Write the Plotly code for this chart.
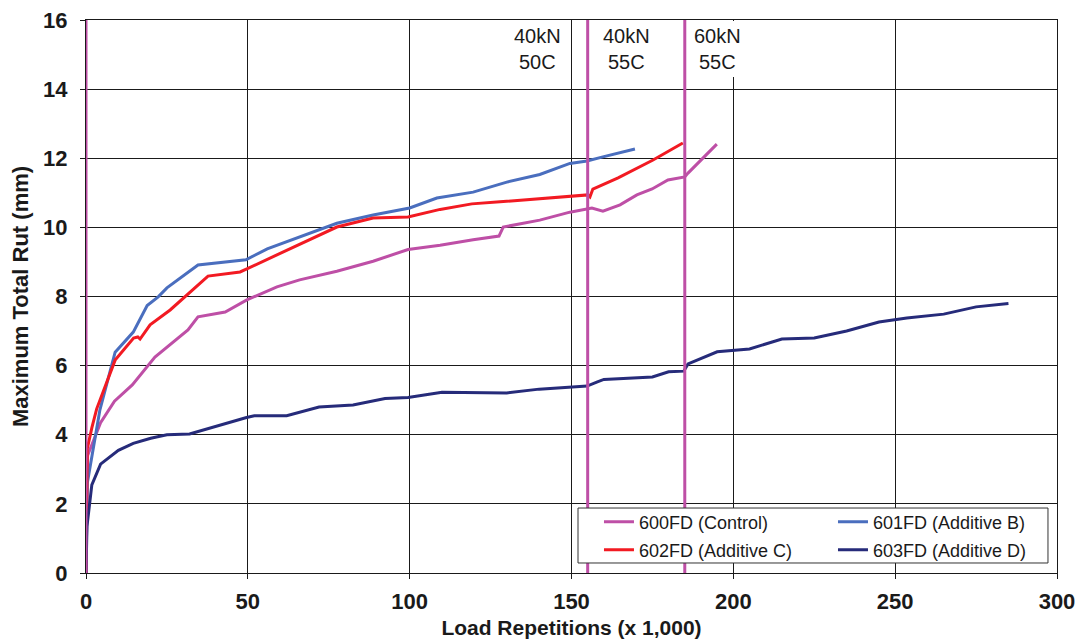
import plotly.graph_objects as go

# Rut depth (mm) versus load repetitions (thousands) for the four test sections
x_600 = [0, 0.5, 4.5, 8.8, 14.3, 21.3, 31.5, 34.6, 43, 49.7, 59, 66, 77.5, 88.7, 99.5,
         109.4, 119.6, 127.6, 128.9, 140.2, 149.5, 154.8, 156.3, 159.7, 165, 170.2,
         174.9, 179.8, 185, 186, 194.9]
y_600 = [0, 3.4, 4.35, 4.97, 5.44, 6.25, 7.03, 7.41, 7.55, 7.9, 8.28, 8.48, 8.73, 9.02,
         9.36, 9.48, 9.64, 9.75, 10.01, 10.21, 10.44, 10.53, 10.56, 10.47, 10.65, 10.94,
         11.11, 11.37, 11.46, 11.57, 12.41]

x_601 = [0, 0.4, 4.3, 9, 14.6, 18.9, 22.3, 25, 34.6, 49.4, 56, 66, 77.5, 88.7, 98.5,
         100, 108.4, 119.6, 130, 140.2, 149.5, 154.8, 159.7, 169.6]
y_601 = [0, 2.6, 4.72, 6.39, 6.97, 7.74, 7.99, 8.25, 8.91, 9.06, 9.38, 9.72, 10.12,
         10.36, 10.53, 10.56, 10.85, 11.02, 11.31, 11.53, 11.85, 11.92, 12.04, 12.27]

x_602 = [0, 0.4, 1.8, 3.3, 9, 14.7, 16, 16.7, 19.8, 26, 37.7, 47.6, 49.7, 67, 77.5,
         88.7, 99.5, 109.4, 119.2, 127.9, 138, 150.5, 155, 155.7, 156.6, 164.4, 175.2,
         184.4]
y_602 = [0, 3.6, 4.2, 4.75, 6.16, 6.8, 6.83, 6.77, 7.18, 7.61, 8.59, 8.71, 8.8, 9.55,
         10.01, 10.27, 10.3, 10.52, 10.68, 10.74, 10.82, 10.9, 10.94, 10.88, 11.11,
         11.43, 11.95, 12.44]

x_603 = [0, 0.3, 1.8, 4.5, 10, 14.6, 20, 25, 32, 42, 49.6, 52, 62, 72, 82.5, 92.4,
         99.5, 110, 119.6, 130, 140, 150.5, 154.8, 158, 160, 175, 180, 184.7, 186, 195,
         205, 215, 225, 235, 245, 253.6, 265, 275, 285]
y_603 = [0, 1.35, 2.55, 3.15, 3.55, 3.75, 3.9, 4.0, 4.02, 4.3, 4.5, 4.55, 4.55, 4.8,
         4.86, 5.05, 5.08, 5.23, 5.21, 5.21, 5.32, 5.38, 5.41, 5.53, 5.6, 5.67, 5.82,
         5.84, 6.05, 6.4, 6.48, 6.77, 6.8, 7.0, 7.26, 7.38, 7.49, 7.7, 7.8]

series_names = ["600FD (Control)", "601FD (Additive B)",
                "602FD (Additive C)", "603FD (Additive D)"]
series_colors = ["#BE4FA6", "#4A6EBE", "#F21A22", "#262B7A"]

# Loading-condition changes (thousand repetitions) and their labels
phase_x = [0, 155, 185]
phase_labels = ["40kN<br>50C", "40kN<br>55C", "60kN<br>55C"]
phase_label_x = [139.6, 167.1, 195.2]

FONT = "Arial, Liberation Sans, sans-serif"
INK = "#1a1a1a"

# legend grid: two columns, two rows, inside a single framed box
legend_ids = ["legend", "legend2", "legend3", "legend4"]
legend_pos = [(0.5283, 0.0922), (0.7693, 0.0922), (0.5283, 0.0416), (0.7693, 0.0416)]

fig = go.Figure()
for xs, ys, name, col, lg in zip([x_600, x_601, x_602, x_603],
                                 [y_600, y_601, y_602, y_603],
                                 series_names, series_colors, legend_ids):
    fig.add_trace(go.Scatter(x=xs, y=ys, mode="lines", name=name, legend=lg,
                             showlegend=True, line=dict(color=col, width=3)))

for px in phase_x:
    fig.add_shape(type="line", x0=px, x1=px, y0=0, y1=16, xref="x", yref="y",
                  line=dict(color="#BE4FA6", width=3), layer="above")

# legend frame
fig.add_shape(type="rect", x0=0.5067, x1=0.9907, y0=0.0181, y1=0.1175,
              xref="paper", yref="paper", fillcolor="white",
              line=dict(color="#333", width=1), layer="above")

# white block behind the last condition label
fig.add_shape(type="rect", x0=187.5, x1=212, y0=14.35, y1=15.97, xref="x", yref="y",
              fillcolor="white", line=dict(width=0), layer="between")

for lx, lt in zip(phase_label_x, phase_labels):
    fig.add_annotation(x=lx, y=15.9, xref="x", yref="y", text=lt, showarrow=False,
                       yanchor="top", align="center",
                       font=dict(family=FONT, size=20, color=INK))

legend_layout = {}
for lg, (lx, ly) in zip(legend_ids, legend_pos):
    legend_layout[lg] = dict(x=lx, y=ly, xanchor="left", yanchor="middle",
                             bgcolor="rgba(0,0,0,0)", borderwidth=0,
                             font=dict(family=FONT, size=18, color=INK),
                             itemwidth=30)

fig.update_layout(
    width=1076, height=642,
    margin=dict(l=86, r=19, t=20, b=69),
    paper_bgcolor="white", plot_bgcolor="white",
    showlegend=True,
    font=dict(family=FONT, color=INK),
    xaxis=dict(range=[0, 300], dtick=50, tick0=0, showgrid=True, gridcolor=INK,
               gridwidth=1, zeroline=False, showline=True, linecolor=INK, linewidth=1,
               mirror=True, ticks="outside", ticklen=5, tickcolor=INK, automargin=False,
               ticklabelstandoff=4,
               tickfont=dict(family=FONT, size=22, weight="bold", color=INK),
               title=dict(text="Load Repetitions (x 1,000)", standoff=6,
                          font=dict(family=FONT, size=21, weight="bold", color=INK))),
    yaxis=dict(range=[0, 16], dtick=2, tick0=0, showgrid=True, gridcolor=INK,
               gridwidth=1, zeroline=False, showline=True, linecolor=INK, linewidth=1,
               mirror=True, ticks="outside", ticklen=5, tickcolor=INK, automargin=False,
               ticklabelstandoff=8,
               tickfont=dict(family=FONT, size=22, weight="bold", color=INK),
               title=dict(text="Maximum Total Rut (mm)", standoff=8,
                          font=dict(family=FONT, size=22, weight="bold", color=INK))),
    **legend_layout,
)

fig.write_html("out.html")
